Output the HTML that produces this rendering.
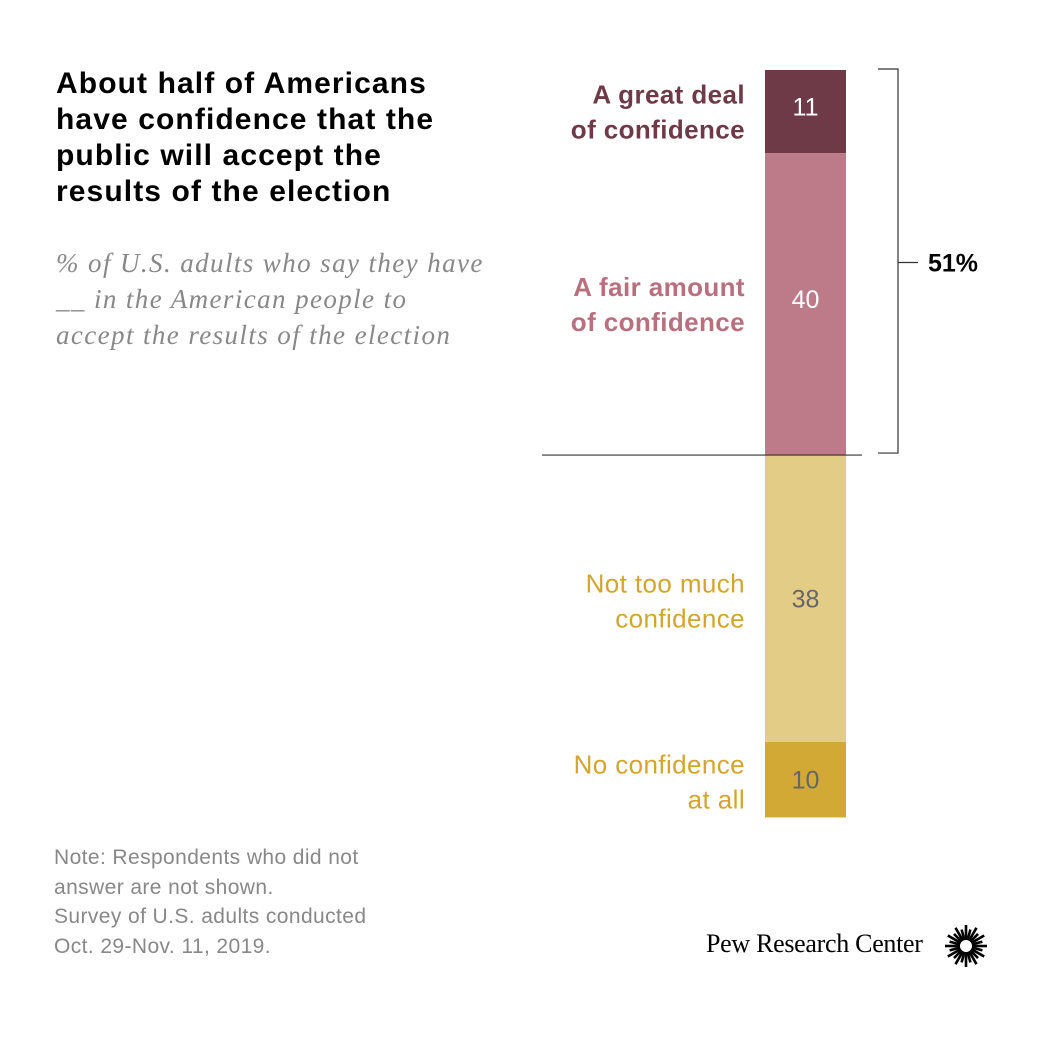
<!DOCTYPE html>
<html><head><meta charset="utf-8"><style>
body{margin:0;background:#fff;width:1040px;height:1040px;position:relative;overflow:hidden;font-family:"Liberation Sans",sans-serif}
.t{position:absolute}
</style></head><body>
<div class="t" style="left:56px;top:66px;font-size:30px;font-weight:bold;line-height:36px;color:#000;white-space:nowrap;letter-spacing:1.1px">About half of Americans<br>have confidence that the<br>public will accept the<br>results of the election</div>
<div class="t" style="left:56px;top:245px;font-family:'Liberation Serif',serif;font-style:italic;font-size:27px;line-height:36px;color:#888;white-space:nowrap;letter-spacing:1.4px">% of U.S. adults who say they have<br>__ in the American people to<br>accept the results of the election</div>
<div class="t" style="left:54px;top:843px;font-size:21px;line-height:29.5px;color:#888;letter-spacing:0.4px;white-space:nowrap">Note: Respondents who did not<br>answer are not shown.<br>Survey of U.S. adults conducted<br>Oct. 29-Nov. 11, 2019.</div>
<div class="t" style="left:706px;top:929px;font-family:'Liberation Serif',serif;font-size:26px;color:#000;letter-spacing:-0.3px;white-space:nowrap">Pew Research Center</div>
<svg class="t" style="left:944px;top:924px" width="44" height="44" viewBox="-22 -22 44 44" id="logo"></svg>
<svg id="chart" class="t" style="left:0;top:0" width="1040" height="1040"></svg>
<script>
const categories=["A great deal of confidence","A fair amount of confidence","Not too much confidence","No confidence at all"];
const values=[11,40,38,10];
const labelLines=[["A great deal","of confidence"],["A fair amount","of confidence"],["Not too much","confidence"],["No confidence","at all"]];
const netLabel="51%";
const fills=["#6f3a48","#bd7a88","#e3cc85","#d3a935"];
const textColors=["#6f3a48","#b8707f","#d4a52e","#d4a52e"];
const bold=[true,true,false,false];
const NS="http://www.w3.org/2000/svg";
const svg=document.getElementById('chart');
const top0=70,scale=7.55,bx=765,bw=81;
const y=v=>top0+v*scale;
function mk(t,a){const e=document.createElementNS(NS,t);for(const k in a)e.setAttribute(k,a[k]);svg.appendChild(e);return e;}
let cum=0;
values.forEach((v,i)=>{
 const y0=y(cum),y1=y(cum+v);
 const r=mk('rect',{x:bx,y:y0,width:bw,height:y1-y0,fill:fills[i]});
 
 
 const mid=(y0+y1)/2;
 const vt=mk('text',{x:bx+bw/2,y:mid+(i<2?4:9),'text-anchor':'middle','font-size':25,fill:i<2?'#fff':'#666','font-family':'Liberation Sans'});
 vt.textContent=v;
 
 
 const lt=mk('text',{x:745,y:mid-18+(i<2?10:12),'text-anchor':'end','font-size':26,fill:textColors[i],'font-weight':bold[i]?'bold':'normal','font-family':'Liberation Sans','letter-spacing':0.4});
 labelLines[i].forEach((l,j)=>{const ts=document.createElementNS(NS,'tspan');ts.setAttribute('x',745);ts.setAttribute('dy',j?35:0);ts.textContent=l;lt.appendChild(ts);});
 
 
 cum+=v;
});
const net=values[0]+values[1];
const yb=y(net);
const d=mk('line',{x1:542,x2:862,y1:yb,y2:yb,stroke:'#333','stroke-width':1.2});


const br=mk('path',{d:`M878 ${top0-1}H898V${yb-2}H878M898 ${(top0+yb)/2}H918`,fill:'none',stroke:'#333','stroke-width':1.2});


const nt=mk('text',{x:928,y:(top0+yb)/2+9,'font-size':25,'font-weight':'bold',fill:'#000','font-family':'Liberation Sans'});
nt.textContent=netLabel;


const logo=document.getElementById('logo');
for(let k=0;k<24;k++){const a=k*Math.PI/12;const l=document.createElementNS(NS,'line');l.setAttribute('x1',6*Math.cos(a));l.setAttribute('y1',6*Math.sin(a));l.setAttribute('x2',(k%2?17:21)*Math.cos(a));l.setAttribute('y2',(k%2?17:21)*Math.sin(a));l.setAttribute('stroke','#000');l.setAttribute('stroke-width',2.6);logo.appendChild(l);}
</script>
</body></html>
